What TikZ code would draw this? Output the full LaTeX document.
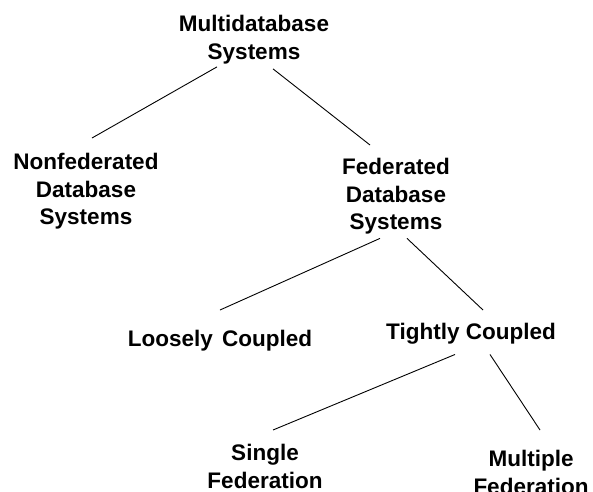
\documentclass[tikz,border=0pt]{standalone}
\usepackage{fontspec}
\setmainfont{Liberation Sans}
\begin{document}
\begin{tikzpicture}[x=1pt,y=-1pt,
  label/.style={font=\bfseries\fontsize{22.5}{27.5}\selectfont, align=center,
    inner sep=0pt, anchor=north},
  branch/.style={line width=0.9pt, black}]
\useasboundingbox (0,0) rectangle (593,491);

% taxonomy labels
\node[label] (multi)   at (254,15)  {Multidatabase\\Systems};
\node[label] (nonfed)  at (86,153)  {Nonfederated\\Database\\Systems};
\node[label] (fed)     at (396,158) {Federated\\Database\\Systems};
\node[label] (loose)   at (220,330) {Loosely\hspace{3pt} Coupled};
\node[label] (tight)   at (471,323) {Tightly Coupled};
\node[label] (single)  at (265,444) {Single\\Federation};
\node[label] (multiple)at (531,450) {Multiple\\Federation};

% branches of the tree
\draw[branch] ([xshift=-37pt,yshift=-3pt]multi.south) -- ([xshift=6pt,yshift=15pt]nonfed.north);
\draw[branch] ([xshift=19pt,yshift=-5pt]multi.south) -- ([xshift=-26pt,yshift=13pt]fed.north);
\draw[branch] ([xshift=-16pt,yshift=-4pt]fed.south) -- ([xshift=0pt,yshift=20pt]loose.north);
\draw[branch] ([xshift=11pt,yshift=-4pt]fed.south) -- ([xshift=12pt,yshift=13pt]tight.north);
\draw[branch] ([xshift=-16pt,yshift=-10pt]tight.south) -- ([xshift=8pt,yshift=14pt]single.north);
\draw[branch] ([xshift=19pt,yshift=-10pt]tight.south) -- ([xshift=9pt,yshift=20pt]multiple.north);
\end{tikzpicture}
\end{document}
